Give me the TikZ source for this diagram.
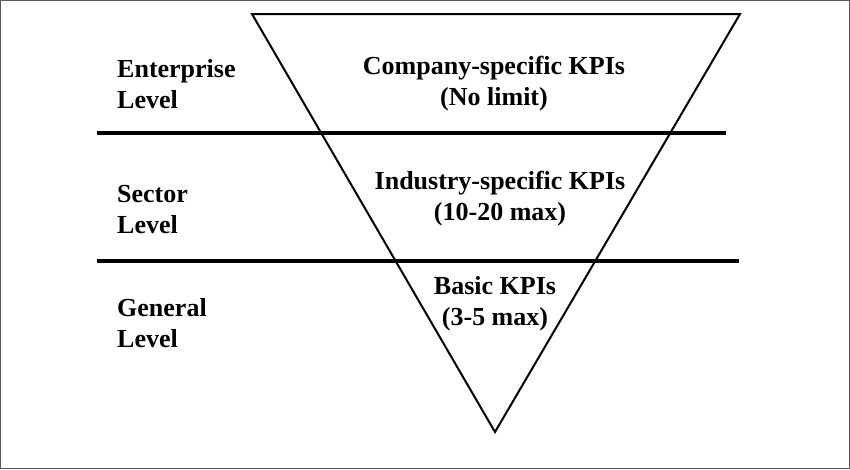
\documentclass[tikz,border=0pt]{standalone}
\usepackage{fontspec}
\setmainfont{Liberation Serif}
\begin{document}
\begin{tikzpicture}[x=1pt,y=-1pt,
  lbl/.style={font=\bfseries\fontsize{26}{31}\selectfont, inner sep=0pt, align=left, anchor=base west},
  kpi/.style={font=\bfseries\fontsize{26}{30.5}\selectfont, inner sep=0pt, align=center, anchor=base},
  sep/.style={line width=3.5pt},
  tri/.style={line width=2pt, line join=miter}]
\useasboundingbox (0,0) rectangle (850,469);
\draw[gray!70!black, line width=1pt] (0.5,0.5) rectangle (849.5,468.5);
\coordinate (tl) at (252,14);
\coordinate (tr) at (740,14);
\coordinate (bt) at (495,432);
\draw[tri] (tl) -- (tr) -- (bt) -- cycle;
\coordinate (a1) at (97,133);
\coordinate (a2) at (726,133);
\coordinate (b1) at (97,261);
\coordinate (b2) at (739,261);
\draw[sep] (a1) -- (a2);
\draw[sep] (b1) -- (b2);
\node[lbl] (ent) at (117,108) {Enterprise\\Level};
\node[lbl] (sec) at (117,233) {Sector\\Level};
\node[lbl] (gen) at (117,347) {General\\Level};
\node[kpi] (comp) at (494,105) {Company-specific KPIs\\(No limit)};
\node[kpi] (ind) at (500,220) {Industry-specific KPIs\\(10-20 max)};
\node[kpi] (bas) at (495,325) {Basic KPIs\\(3-5 max)};
\end{tikzpicture}
\end{document}
